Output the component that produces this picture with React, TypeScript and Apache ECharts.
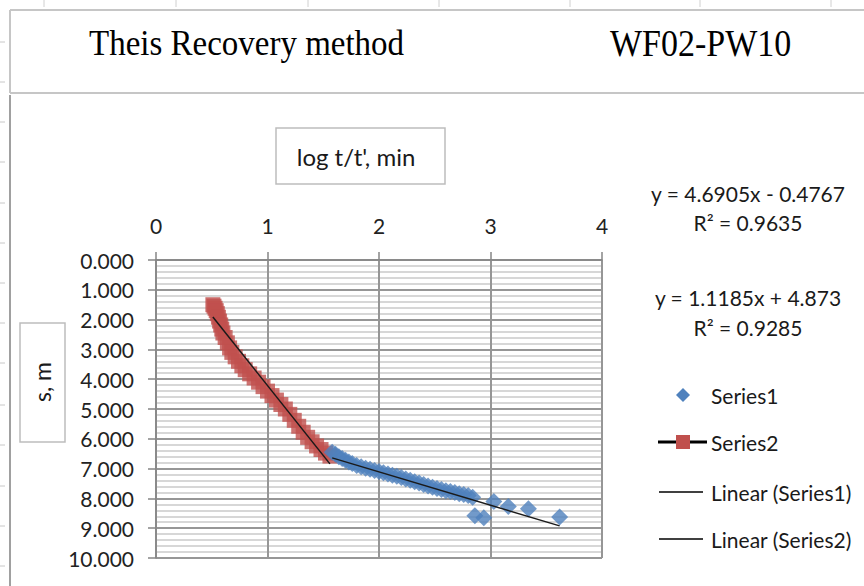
import React, { useEffect, useRef } from "react";
import * as echarts from "echarts";

// ---- data ----
const xTickValues = [0, 1, 2, 3, 4];
const yTickValues = [0, 1, 2, 3, 4, 5, 6, 7, 8, 9, 10];

// Series1 (blue diamonds): log t/t' vs s
const series1X = [1.58, 1.61, 1.64, 1.67, 1.7, 1.73, 1.76, 1.8, 1.84, 1.88, 1.92, 1.96, 2.0, 2.04, 2.08, 2.12, 2.16, 2.2, 2.24, 2.28, 2.32, 2.36, 2.4, 2.44, 2.48, 2.52, 2.56, 2.6, 2.64, 2.68, 2.72, 2.76, 2.8, 2.84, 2.86, 2.94, 3.03, 3.16, 3.34, 3.62];
const series1Y = [6.45, 6.52, 6.6, 6.66, 6.72, 6.78, 6.83, 6.9, 6.94, 6.99, 7.02, 7.06, 7.1, 7.14, 7.18, 7.22, 7.26, 7.3, 7.35, 7.39, 7.44, 7.48, 7.53, 7.58, 7.63, 7.67, 7.7, 7.74, 7.77, 7.8, 7.84, 7.87, 7.9, 7.96, 8.58, 8.65, 8.1, 8.27, 8.35, 8.62];

// Series2 (red squares)
const series2X = [0.51, 0.52, 0.53, 0.54, 0.55, 0.56, 0.57, 0.58, 0.59, 0.6, 0.62, 0.64, 0.66, 0.68, 0.71, 0.74, 0.77, 0.8, 0.84, 0.88, 0.92, 0.96, 1.0, 1.04, 1.08, 1.12, 1.16, 1.2, 1.24, 1.28, 1.32, 1.36, 1.4, 1.44, 1.48, 1.52, 1.56];
const series2Y = [1.5, 1.55, 1.62, 1.7, 1.8, 1.92, 2.05, 2.18, 2.32, 2.45, 2.6, 2.78, 2.95, 3.1, 3.25, 3.4, 3.55, 3.68, 3.82, 3.96, 4.1, 4.25, 4.4, 4.55, 4.7, 4.85, 5.0, 5.18, 5.38, 5.58, 5.78, 5.95, 6.1, 6.24, 6.36, 6.48, 6.58];

// Trendline coefficients as printed on the chart
const trendSlopes = [1.1185, 4.6905]; // Series1, Series2
const trendIntercepts = [4.873, -0.4767];

const equationTexts = ["y = 4.6905x - 0.4767", "R² = 0.9635", "y = 1.1185x + 4.873", "R² = 0.9285"];
const legendNames = ["Series1", "Series2", "Linear (Series1)", "Linear (Series2)"];
const titleTexts = ["Theis Recovery method", "WF02-PW10"];
const xAxisTitle = "log t/t', min";
const yAxisTitle = "s, m";

const BLUE = "#4F81BD";
const RED = "#C0504D";
const FONT = "Lato, 'Open Sans', sans-serif";

function trendPoints(xs: number[], k: number, b: number) {
  const lo = Math.min(...xs);
  const hi = Math.max(...xs);
  return [
    [lo, k * lo + b],
    [hi, k * hi + b],
  ];
}

export default function App() {
  const ref = useRef<HTMLDivElement>(null);

  useEffect(() => {
    if (!ref.current) return;
    const chart = echarts.init(ref.current, undefined, { renderer: "svg" });

    const sheetTicksLeft = [42, 82, 122, 162, 203, 243, 283, 323, 363, 405, 445, 486, 526, 566];
    const sheetTicksTop = [44, 176, 308, 439, 570, 700, 831];

    const graphic: any[] = [];
    sheetTicksLeft.forEach((y) =>
      graphic.push({ type: "line", shape: { x1: 0, y1: y, x2: 5, y2: y }, style: { stroke: "#c8c8c8", lineWidth: 1 } })
    );
    sheetTicksTop.forEach((x) =>
      graphic.push({ type: "line", shape: { x1: x, y1: 0, x2: x, y2: 7 }, style: { stroke: "#d0d0d0", lineWidth: 1 } })
    );
    // title box
    graphic.push(
      { type: "line", shape: { x1: 10, y1: 10, x2: 864, y2: 10 }, style: { stroke: "#c6c6c6", lineWidth: 2 } },
      { type: "line", shape: { x1: 10, y1: 93, x2: 864, y2: 93 }, style: { stroke: "#c6c6c6", lineWidth: 2 } },
      { type: "line", shape: { x1: 10, y1: 10, x2: 10, y2: 93 }, style: { stroke: "#c6c6c6", lineWidth: 2 } },
      { type: "line", shape: { x1: 10, y1: 95, x2: 10, y2: 586 }, style: { stroke: "#808080", lineWidth: 1.5 } },
      {
        type: "text", x: 89, y: 43, scaleY: 1.1,
        style: { text: titleTexts[0], fill: "#000", font: "33px 'Liberation Serif', serif", align: "left", verticalAlign: "middle" },
      },
      {
        type: "text", x: 610, y: 43, scaleY: 1.1,
        style: { text: titleTexts[1], fill: "#000", font: "34px 'Liberation Serif', serif", align: "left", verticalAlign: "middle" },
      }
    );
    // axis title boxes
    graphic.push(
      { type: "rect", shape: { x: 276, y: 128, width: 169, height: 56 }, style: { fill: "#fff", stroke: "#bdbdbd", lineWidth: 1.5 } },
      { type: "text", x: 356, y: 156, style: { text: xAxisTitle, fill: "#1a1a1a", font: `24px ${FONT}`, align: "center", verticalAlign: "middle" } },
      { type: "rect", shape: { x: 20, y: 323, width: 45, height: 119 }, style: { fill: "#fff", stroke: "#bdbdbd", lineWidth: 1.5 } },
      { type: "text", x: 42, y: 382, rotation: Math.PI / 2, style: { text: yAxisTitle, fill: "#1a1a1a", font: `23px ${FONT}`, align: "center", verticalAlign: "middle" } }
    );
    // equations
    const eqY = [193, 222, 297, 327];
    equationTexts.forEach((t, i) =>
      graphic.push({ type: "text", x: 748, y: eqY[i], style: { text: t, fill: "#1a1a1a", font: `21px ${FONT}`, align: "center", verticalAlign: "middle" } })
    );
    // legend
    const legY = [395, 442, 492, 539];
    graphic.push(
      { type: "polygon", shape: { points: [[683, 388], [690, 395], [683, 402], [676, 395]] }, style: { fill: BLUE } },
      { type: "line", shape: { x1: 658, y1: legY[1], x2: 707, y2: legY[1] }, style: { stroke: "#000", lineWidth: 3 } },
      { type: "rect", shape: { x: 676, y: legY[1] - 7, width: 14, height: 14 }, style: { fill: RED } },
      { type: "line", shape: { x1: 659, y1: legY[2], x2: 703, y2: legY[2] }, style: { stroke: "#000", lineWidth: 1.5 } },
      { type: "line", shape: { x1: 659, y1: legY[3], x2: 703, y2: legY[3] }, style: { stroke: "#000", lineWidth: 1.5 } }
    );
    legendNames.forEach((n, i) =>
      graphic.push({ type: "text", x: 711, y: legY[i], style: { text: n, fill: "#1a1a1a", font: `21px ${FONT}`, align: "left", verticalAlign: "middle" } })
    );

    const option: any = {
      animation: false,
      backgroundColor: "#fff",
      grid: { left: 156, top: 260, width: 446, height: 298, containLabel: false },
      xAxis: {
        type: "value",
        position: "top",
        min: xTickValues[0],
        max: xTickValues[xTickValues.length - 1],
        interval: 1,
        axisLine: { show: true, lineStyle: { color: "#868686", width: 1.5 } },
        axisTick: { show: true, length: 8, lineStyle: { color: "#868686", width: 1.5 } },
        axisLabel: { fontFamily: FONT, fontSize: 21, color: "#222", margin: 24 },
        splitLine: { show: true, lineStyle: { color: "#969696", width: 2 } },
      },
      yAxis: {
        type: "value",
        inverse: true,
        min: yTickValues[0],
        max: yTickValues[yTickValues.length - 1],
        interval: 1,
        axisLine: { show: true, lineStyle: { color: "#868686", width: 1.5 } },
        axisTick: { show: true, length: 8, lineStyle: { color: "#868686", width: 1.5 } },
        axisLabel: { fontFamily: FONT, fontSize: 21, color: "#222", margin: 22, formatter: (v: number) => v.toFixed(3) },
        splitLine: { show: true, lineStyle: { color: "#969696", width: 2 } },
        minorTick: { show: false, splitNumber: 5 },
        minorSplitLine: { show: true, lineStyle: { color: "#cacaca", width: 1.5 } },
      },
      graphic,
      series: [
        {
          name: "Series2",
          type: "scatter",
          symbol: "rect",
          symbolSize: 15,
          itemStyle: { color: RED },
          data: series2X.map((x, i) => [x, series2Y[i]]),
          z: 2,
        },
        {
          name: "Series1",
          type: "scatter",
          symbol: "diamond",
          symbolSize: 17,
          itemStyle: { color: BLUE },
          data: series1X.map((x, i) => [x, series1Y[i]]),
          z: 3,
        },
        {
          name: "Linear (Series1)",
          type: "line",
          symbol: "none",
          lineStyle: { color: "#1a1a1a", width: 1.5 },
          data: trendPoints(series1X, trendSlopes[0], trendIntercepts[0]),
          z: 4,
        },
        {
          name: "Linear (Series2)",
          type: "line",
          symbol: "none",
          lineStyle: { color: "#1a1a1a", width: 1.5 },
          data: trendPoints(series2X, trendSlopes[1], trendIntercepts[1]),
          z: 4,
        },
      ],
    };
    chart.setOption(option);
    return () => chart.dispose();
  }, []);

  return <div ref={ref} style={{ position: "fixed", left: 0, top: 0, width: 864, height: 586, background: "#fff" }} />;
}
